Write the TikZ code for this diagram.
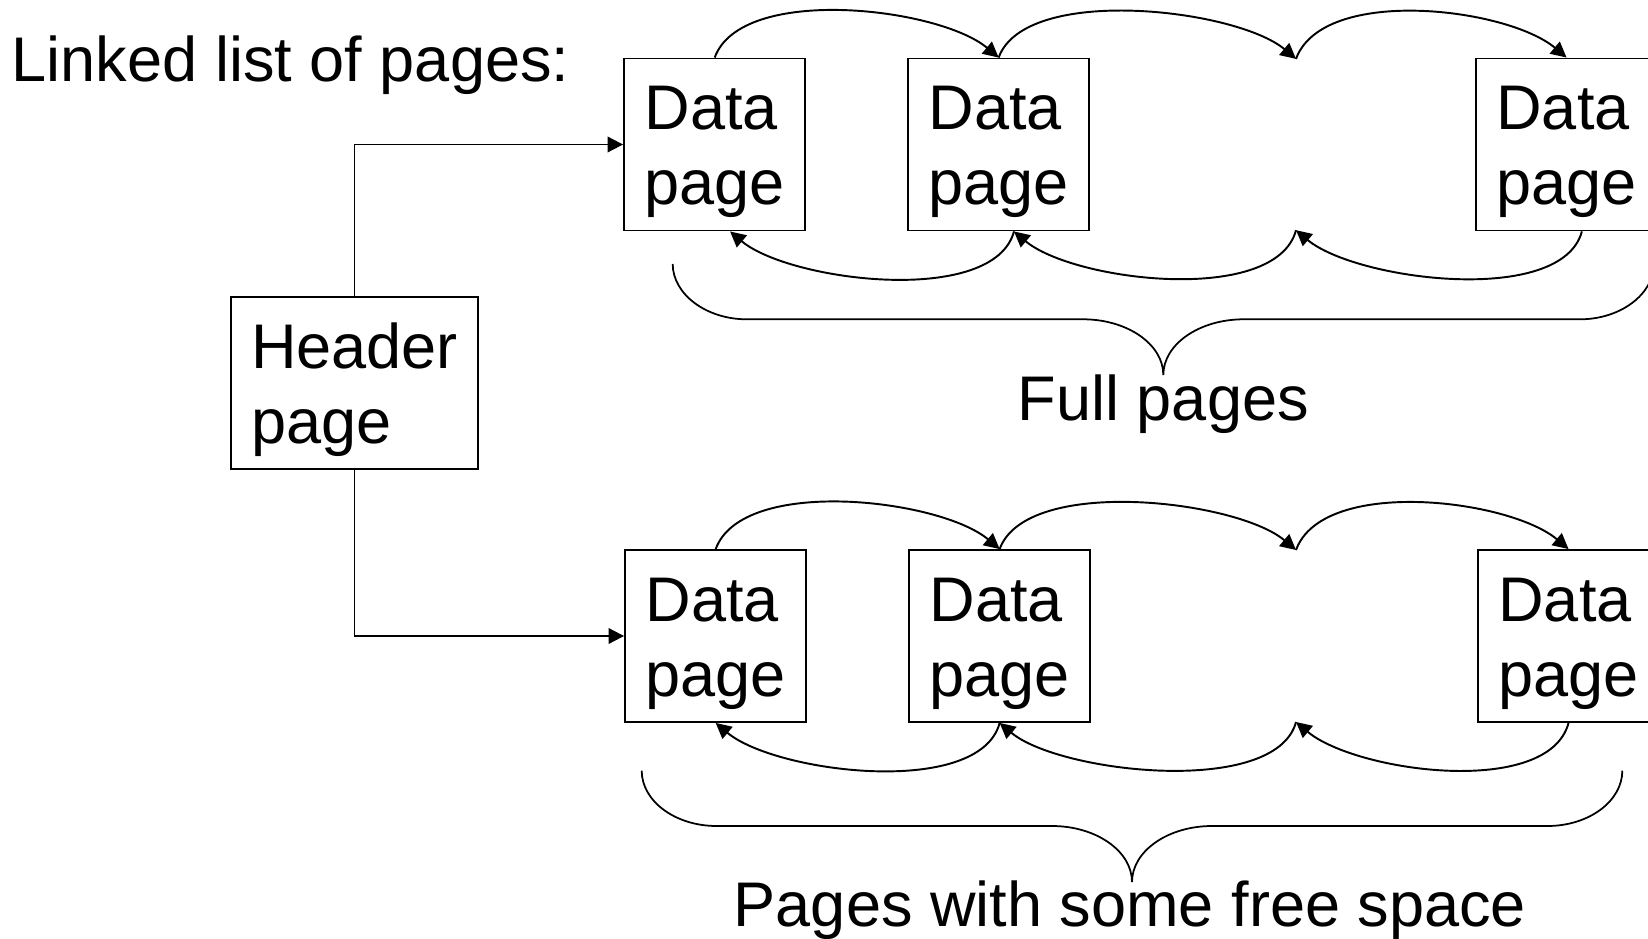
\documentclass[tikz,border=0pt]{standalone}
\usepackage{fontspec}
\setmainfont{Liberation Sans}
\usepackage{tikz}
\usetikzlibrary{positioning,arrows.meta}
\newcommand{\pgstrut}{\rule{0pt}{1.18cm}}

\begin{document}
\begin{tikzpicture}[x=0.02cm, y=0.02cm, font=\fontsize{35.9pt}{42.7pt}\selectfont,
    page block/.style={draw, rectangle, line width=1.1pt, inner xsep=0.41cm, inner ysep=0pt, minimum height=3.44cm, align=left},
    link/.style={line width=1.1pt, -{Triangle[length=0.31cm, width=0.31cm]}},
    fwd link/.style={link, out=70, in=140, distance=1.56cm},
    back link/.style={link, out=-105, in=-40, distance=1.56cm},
    brace line/.style={line width=1pt},
    label text/.style={inner sep=0pt, anchor=base},
    node distance=5.68cm]
    \useasboundingbox (0,0) rectangle (1648,938);

    \node[label text, anchor=base west] (title) at (11.5,856) {Linked list of pages:};
    \node[page block] (header) at (354.5,555) {\pgstrut Header \\ page};

    % full pages
    \node[page block] (full1) at (714.7,793.5) {\pgstrut Data \\ page};
    \node[page block, right of=full1] (full2) {\pgstrut Data \\ page};
    \node[page block, right of=full2, node distance=11.36cm] (full3) {\pgstrut Data \\ page};
    \coordinate (fullgaptop) at (1296,879.1);
    \coordinate (fullgapbot) at (1296,707.8);

    % pages with free space
    \node[page block] (free1) at (715.7,302) {\pgstrut Data \\ page};
    \node[page block, right of=free1] (free2) {\pgstrut Data \\ page};
    \node[page block, right of=free2, node distance=11.38cm] (free3) {\pgstrut Data \\ page};
    \coordinate (freegaptop) at (1296,388);
    \coordinate (freegapbot) at (1296,216);

    \draw[link] (header.north) |- (full1.west);
    \draw[link] (header.south) |- (free1.west);

    \draw[fwd link] (full1.north) to (full2.north);
    \draw[fwd link] (full2.north) to (fullgaptop);
    \draw[fwd link] (fullgaptop) to (full3.north);
    \draw[back link] (full2.-80) to (full1.-80);
    \draw[back link] (fullgapbot) to (full2.-80);
    \draw[back link] (full3.-80) to (fullgapbot);

    \draw[fwd link] (free1.north) to (free2.north);
    \draw[fwd link] (free2.north) to (freegaptop);
    \draw[fwd link] (freegaptop) to (free3.north);
    \draw[back link] (free2.south) to (free1.south);
    \draw[back link] (freegapbot) to (free2.south);
    \draw[back link] (free3.south) to (freegapbot);

    % braces
    \draw[brace line] (672.7,674) .. controls (672.7,644) and (706,618.7) .. (746.7,618.7) -- (1083,618.7)
        .. controls (1127,618.7) and (1163.3,594) .. (1163.3,563)
        .. controls (1163.3,594) and (1199.6,618.7) .. (1243.6,618.7) -- (1580,618.7)
        .. controls (1620.6,618.7) and (1653.9,644) .. (1653.9,674);
    \draw[brace line] (641.7,167.3) .. controls (641.7,137) and (675,112) .. (716.7,112) -- (1052,112)
        .. controls (1096,112) and (1132,87) .. (1132,56)
        .. controls (1132,87) and (1168,112) .. (1212,112) -- (1547.3,112)
        .. controls (1589,112) and (1622.3,137) .. (1622.3,167.3);

    \node[label text] (fulllabel) at (1163.3,518) {Full pages};
    \node[label text] (freelabel) at (1130,12) {Pages with some free space};
\end{tikzpicture}
\end{document}
